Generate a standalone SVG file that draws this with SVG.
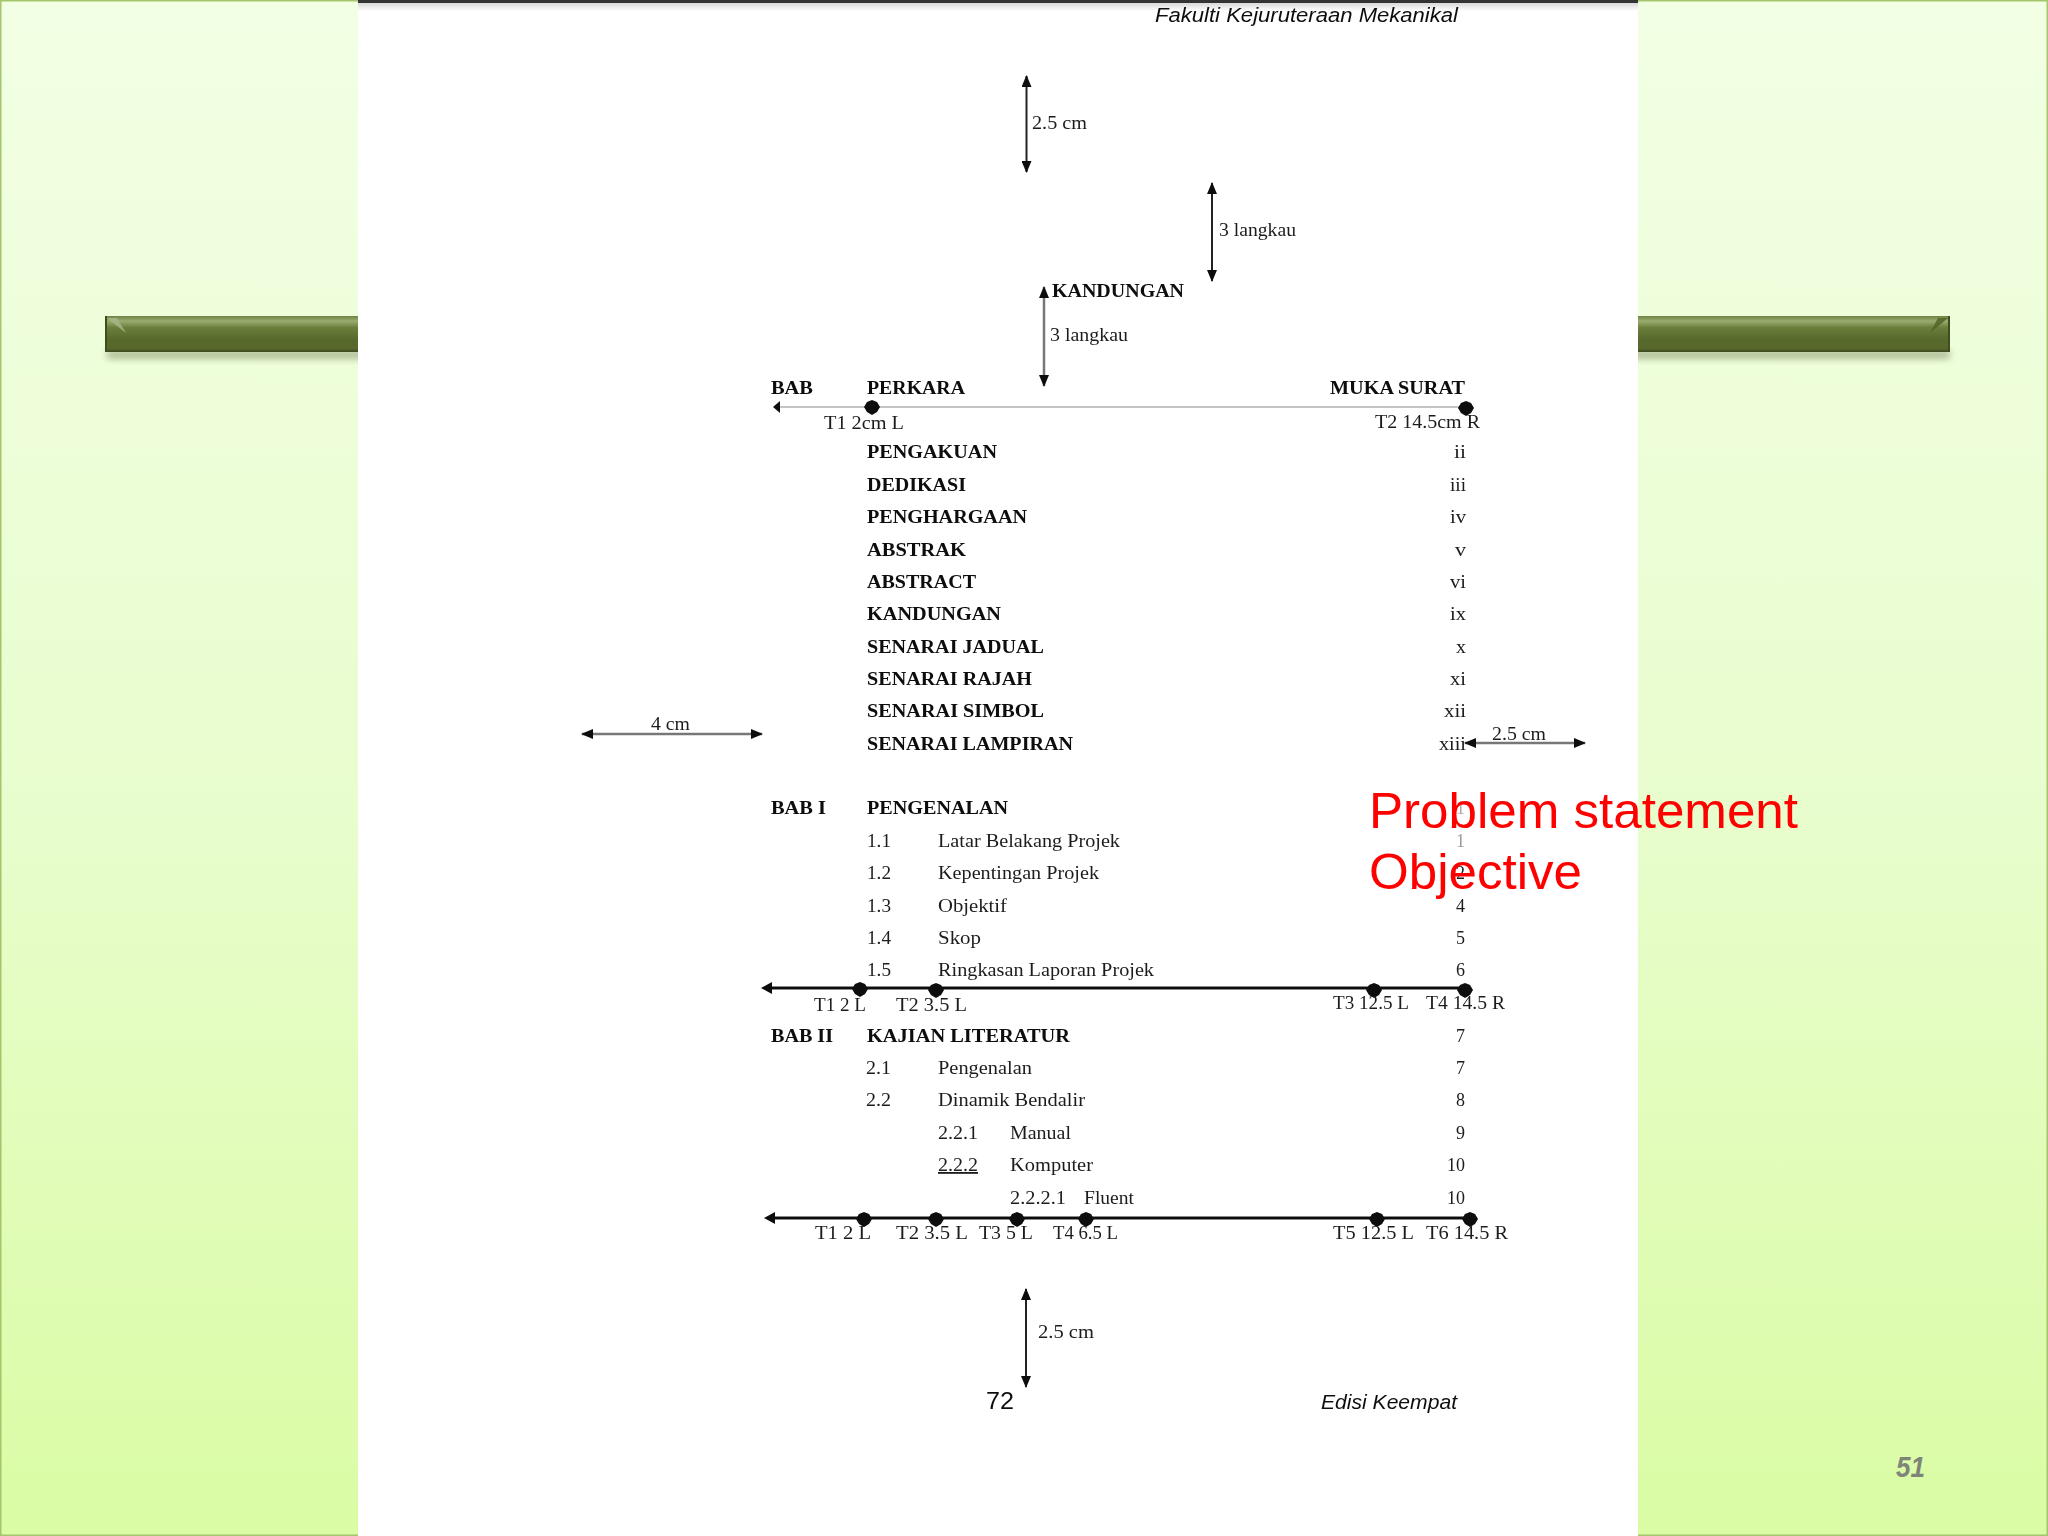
<svg xmlns="http://www.w3.org/2000/svg" xmlns:xlink="http://www.w3.org/1999/xlink" width="2048" height="1536" viewBox="0 0 2048 1536">
<style>
.r{font-family:"Liberation Serif",serif;font-size:18px;fill:#1c1c1c}
.b{font-family:"Liberation Serif",serif;font-size:18px;font-weight:bold;fill:#0a0a0a}
.f{font-family:"Liberation Sans",sans-serif;font-style:italic;font-size:20px;fill:#111}
.red{font-family:"Liberation Sans",sans-serif;font-size:50px;fill:#f00}
.pg{text-anchor:end}
.thin{stroke:#222;stroke-width:2;fill:none}
.gray{stroke:#c4c4c4;stroke-width:2;fill:none}
.mid{stroke:#777;stroke-width:2.5;fill:none}
.heavy{stroke:#111;stroke-width:3;fill:none}
.ah{marker-start:url(#a);marker-end:url(#a)}
</style>
<defs>
<linearGradient id="bg" x1="0" y1="0" x2="0" y2="1"><stop offset="0" stop-color="#f2ffe4"/><stop offset="0.5" stop-color="#e9fdcf"/><stop offset="1" stop-color="#dafca4"/></linearGradient>
<linearGradient id="bar" x1="0" y1="0" x2="0" y2="1"><stop offset="0" stop-color="#6f8243"/><stop offset="0.14" stop-color="#9aac70"/><stop offset="0.32" stop-color="#6b7f3c"/><stop offset="0.65" stop-color="#57692b"/><stop offset="0.9" stop-color="#56682b"/><stop offset="1" stop-color="#3c4a20"/></linearGradient>
<linearGradient id="topfade" x1="0" y1="0" x2="0" y2="1"><stop offset="0" stop-color="#d8d8d8"/><stop offset="1" stop-color="#ffffff"/></linearGradient>
<filter id="soft" x="-2%" y="-2%" width="104%" height="104%"><feGaussianBlur stdDeviation="0.6"/></filter>
<filter id="sh" x="-2%" y="-30%" width="104%" height="190%"><feGaussianBlur stdDeviation="3.5"/></filter>
<marker id="a" viewBox="0 0 12 10" refX="11" refY="5" markerWidth="12" markerHeight="10" markerUnits="userSpaceOnUse" orient="auto-start-reverse"><path d="M0 0L12 5L0 10Z" fill="#111"/></marker>
<path id="d" d="M0-7L5-5 8 0 5 5 0 8-5 5-8 0-5-5Z" fill="#0a0a0a"/>
</defs>

<g id="background">
<rect width="2048" height="1536" fill="url(#bg)"/>
<rect x="0.75" y="0.75" width="2046.5" height="1534.5" fill="none" stroke="#a5c56b" stroke-width="1.5"/>
<rect x="107" y="350" width="1843" height="9" fill="#7d8a60" opacity="0.55" filter="url(#sh)"/>
<g id="title-bar">
<rect x="105" y="316" width="1845" height="36" fill="url(#bar)"/>
<path d="M107 318H117L126 333Z" fill="#a9b78a" opacity="0.8"/>
<path d="M1948 318H1938L1930 333Z" fill="#4f6024" opacity="0.8"/>
<rect x="105" y="316" width="2" height="36" fill="#3f4d20"/>
<rect x="1948" y="316" width="2" height="36" fill="#3f4d20"/>
</g>
<text id="page-number" x="1896" y="1477" font-family="Liberation Sans,sans-serif" font-weight="bold" font-style="italic" font-size="30" fill="#7f8478" textLength="29" lengthAdjust="spacingAndGlyphs">51</text>
</g>

<g id="page">
<rect x="358" y="0" width="1280" height="1536" fill="#fff"/>
<rect x="358" y="3" width="1280" height="8" fill="url(#topfade)"/>
<rect x="358" y="0" width="1280" height="3" fill="#333"/>
</g>

<g id="connectors" filter="url(#soft)">
<line class="thin ah" x1="1026.500" y1="76" x2="1026.500" y2="172"/>
<line class="thin ah" x1="1212" y1="183" x2="1212" y2="281"/>
<line class="mid ah" x1="1044" y1="287" x2="1044" y2="386"/>
<line class="thin ah" x1="1026" y1="1289" x2="1026" y2="1387"/>
<line class="gray" x1="777" y1="407" x2="1465" y2="407"/>
<path d="M773 407L780 401V413Z" fill="#111"/>
<line class="mid ah" x1="582" y1="734" x2="762" y2="734"/>
<line class="mid ah" x1="1465" y1="743" x2="1585" y2="743"/>
<line class="heavy" x1="768" y1="988" x2="1465" y2="988"/>
<path d="M761 988L772 982V994Z" fill="#111"/>
<line class="heavy" x1="771" y1="1218" x2="1470" y2="1218"/>
<path d="M764 1218L775 1212V1224Z" fill="#111"/>
<use xlink:href="#d" href="#d" x="872" y="407"/>
<use xlink:href="#d" href="#d" x="1466" y="408"/>
<use xlink:href="#d" href="#d" x="860" y="989"/>
<use xlink:href="#d" href="#d" x="936" y="990"/>
<use xlink:href="#d" href="#d" x="1374" y="990"/>
<use xlink:href="#d" href="#d" x="1465" y="990"/>
<use xlink:href="#d" href="#d" x="864" y="1219"/>
<use xlink:href="#d" href="#d" x="936" y="1219"/>
<use xlink:href="#d" href="#d" x="1017" y="1219"/>
<use xlink:href="#d" href="#d" x="1086" y="1219"/>
<use xlink:href="#d" href="#d" x="1377" y="1219"/>
<use xlink:href="#d" href="#d" x="1470" y="1219"/>
</g>

<g id="page-text" filter="url(#soft)">
<text class="f" x="1155" y="22" textLength="303" lengthAdjust="spacingAndGlyphs">Fakulti Kejuruteraan Mekanikal</text>
<text class="r" x="1032" y="129" textLength="55" lengthAdjust="spacingAndGlyphs">2.5 cm</text>
<text class="r" x="1219" y="236" textLength="77" lengthAdjust="spacingAndGlyphs">3 langkau</text>
<text class="b" x="1052" y="297" textLength="132" lengthAdjust="spacingAndGlyphs">KANDUNGAN</text>
<text class="r" x="1050" y="341" textLength="78" lengthAdjust="spacingAndGlyphs">3 langkau</text>
<text class="b" x="771" y="394" textLength="42" lengthAdjust="spacingAndGlyphs">BAB</text>
<text class="b" x="867" y="394" textLength="98" lengthAdjust="spacingAndGlyphs">PERKARA</text>
<text class="b" x="1330" y="394" textLength="135" lengthAdjust="spacingAndGlyphs">MUKA SURAT</text>
<text class="r" x="824" y="429" textLength="80" lengthAdjust="spacingAndGlyphs">T1 2cm L</text>
<text class="r" x="1375" y="428" textLength="105" lengthAdjust="spacingAndGlyphs">T2 14.5cm R</text>

<text class="b" x="867" y="458" textLength="130" lengthAdjust="spacingAndGlyphs">PENGAKUAN</text>
<text class="b" x="867" y="491" textLength="99" lengthAdjust="spacingAndGlyphs">DEDIKASI</text>
<text class="b" x="867" y="523" textLength="160" lengthAdjust="spacingAndGlyphs">PENGHARGAAN</text>
<text class="b" x="867" y="556" textLength="99" lengthAdjust="spacingAndGlyphs">ABSTRAK</text>
<text class="b" x="867" y="588" textLength="109" lengthAdjust="spacingAndGlyphs">ABSTRACT</text>
<text class="b" x="867" y="620" textLength="134" lengthAdjust="spacingAndGlyphs">KANDUNGAN</text>
<text class="b" x="867" y="653" textLength="177" lengthAdjust="spacingAndGlyphs">SENARAI JADUAL</text>
<text class="b" x="867" y="685" textLength="165" lengthAdjust="spacingAndGlyphs">SENARAI RAJAH</text>
<text class="b" x="867" y="717" textLength="177" lengthAdjust="spacingAndGlyphs">SENARAI SIMBOL</text>
<text class="b" x="867" y="750" textLength="206" lengthAdjust="spacingAndGlyphs">SENARAI LAMPIRAN</text>

<text class="r" x="1454" y="458" textLength="12" lengthAdjust="spacingAndGlyphs">ii</text>
<text class="r" x="1450" y="491" textLength="16" lengthAdjust="spacingAndGlyphs">iii</text>
<text class="r" x="1450" y="523" textLength="16" lengthAdjust="spacingAndGlyphs">iv</text>
<text class="r" x="1455" y="556" textLength="11" lengthAdjust="spacingAndGlyphs">v</text>
<text class="r" x="1450" y="588" textLength="16" lengthAdjust="spacingAndGlyphs">vi</text>
<text class="r" x="1450" y="620" textLength="16" lengthAdjust="spacingAndGlyphs">ix</text>
<text class="r" x="1456" y="653" textLength="10" lengthAdjust="spacingAndGlyphs">x</text>
<text class="r" x="1450" y="685" textLength="16" lengthAdjust="spacingAndGlyphs">xi</text>
<text class="r" x="1444" y="717" textLength="22" lengthAdjust="spacingAndGlyphs">xii</text>
<text class="r" x="1439" y="750" textLength="27" lengthAdjust="spacingAndGlyphs">xiii</text>

<text class="r" x="651" y="730" textLength="39" lengthAdjust="spacingAndGlyphs">4 cm</text>
<text class="r" x="1492" y="740" textLength="54" lengthAdjust="spacingAndGlyphs">2.5 cm</text>

<text class="b" x="771" y="814" textLength="55" lengthAdjust="spacingAndGlyphs">BAB I</text>
<text class="b" x="867" y="814" textLength="141" lengthAdjust="spacingAndGlyphs">PENGENALAN</text>
<text class="r pg" x="1465" y="814" style="fill:#aaa">1</text>
<text class="r" x="867" y="847" textLength="24" lengthAdjust="spacingAndGlyphs">1.1</text>
<text class="r" x="938" y="847" textLength="182" lengthAdjust="spacingAndGlyphs">Latar Belakang Projek</text>
<text class="r pg" x="1465" y="847" style="fill:#999">1</text>
<text class="r" x="867" y="879" textLength="24" lengthAdjust="spacingAndGlyphs">1.2</text>
<text class="r" x="938" y="879" textLength="161" lengthAdjust="spacingAndGlyphs">Kepentingan Projek</text>
<text class="r pg" x="1465" y="879">2</text>
<text class="r" x="867" y="912" textLength="24" lengthAdjust="spacingAndGlyphs">1.3</text>
<text class="r" x="938" y="912" textLength="69" lengthAdjust="spacingAndGlyphs">Objektif</text>
<text class="r pg" x="1465" y="912">4</text>
<text class="r" x="867" y="944" textLength="24" lengthAdjust="spacingAndGlyphs">1.4</text>
<text class="r" x="938" y="944" textLength="43" lengthAdjust="spacingAndGlyphs">Skop</text>
<text class="r pg" x="1465" y="944">5</text>
<text class="r" x="867" y="976" textLength="24" lengthAdjust="spacingAndGlyphs">1.5</text>
<text class="r" x="938" y="976" textLength="216" lengthAdjust="spacingAndGlyphs">Ringkasan Laporan Projek</text>
<text class="r pg" x="1465" y="976">6</text>

<text class="r" x="814" y="1011" textLength="52" lengthAdjust="spacingAndGlyphs">T1 2 L</text>
<text class="r" x="896" y="1011" textLength="71" lengthAdjust="spacingAndGlyphs">T2 3.5 L</text>
<text class="r" x="1333" y="1009" textLength="76" lengthAdjust="spacingAndGlyphs">T3 12.5 L</text>
<text class="r" x="1426" y="1009" textLength="79" lengthAdjust="spacingAndGlyphs">T4 14.5 R</text>

<text class="b" x="771" y="1042" textLength="62" lengthAdjust="spacingAndGlyphs">BAB II</text>
<text class="b" x="867" y="1042" textLength="203" lengthAdjust="spacingAndGlyphs">KAJIAN LITERATUR</text>
<text class="r pg" x="1465" y="1042">7</text>
<text class="r" x="866" y="1074" textLength="25" lengthAdjust="spacingAndGlyphs">2.1</text>
<text class="r" x="938" y="1074" textLength="94" lengthAdjust="spacingAndGlyphs">Pengenalan</text>
<text class="r pg" x="1465" y="1074">7</text>
<text class="r" x="866" y="1106" textLength="25" lengthAdjust="spacingAndGlyphs">2.2</text>
<text class="r" x="938" y="1106" textLength="147" lengthAdjust="spacingAndGlyphs">Dinamik Bendalir</text>
<text class="r pg" x="1465" y="1106">8</text>
<text class="r" x="938" y="1139" textLength="40" lengthAdjust="spacingAndGlyphs">2.2.1</text>
<text class="r" x="1010" y="1139" textLength="61" lengthAdjust="spacingAndGlyphs">Manual</text>
<text class="r pg" x="1465" y="1139">9</text>
<text class="r" x="938" y="1171" textLength="40" lengthAdjust="spacingAndGlyphs" text-decoration="underline">2.2.2</text>
<text class="r" x="1010" y="1171" textLength="83" lengthAdjust="spacingAndGlyphs">Komputer</text>
<text class="r" x="1447" y="1171" textLength="18" lengthAdjust="spacingAndGlyphs">10</text>
<text class="r" x="1010" y="1204" textLength="56" lengthAdjust="spacingAndGlyphs">2.2.2.1</text>
<text class="r" x="1084" y="1204" textLength="50" lengthAdjust="spacingAndGlyphs">Fluent</text>
<text class="r" x="1447" y="1204" textLength="18" lengthAdjust="spacingAndGlyphs">10</text>

<text class="r" x="815" y="1239" textLength="56" lengthAdjust="spacingAndGlyphs">T1 2 L</text>
<text class="r" x="896" y="1239" textLength="72" lengthAdjust="spacingAndGlyphs">T2 3.5 L</text>
<text class="r" x="979" y="1239" textLength="54" lengthAdjust="spacingAndGlyphs">T3 5 L</text>
<text class="r" x="1053" y="1239" textLength="65" lengthAdjust="spacingAndGlyphs">T4 6.5 L</text>
<text class="r" x="1333" y="1239" textLength="81" lengthAdjust="spacingAndGlyphs">T5 12.5 L</text>
<text class="r" x="1426" y="1239" textLength="82" lengthAdjust="spacingAndGlyphs">T6 14.5 R</text>

<text class="r" x="1038" y="1338" textLength="56" lengthAdjust="spacingAndGlyphs">2.5 cm</text>
<text class="f" x="986" y="1409" style="font-style:normal;font-size:24px" textLength="28" lengthAdjust="spacingAndGlyphs">72</text>
<text class="f" x="1321" y="1409" textLength="136" lengthAdjust="spacingAndGlyphs">Edisi Keempat</text>
</g>

<g id="callout">
<text class="red" x="1369" y="828" textLength="429" lengthAdjust="spacingAndGlyphs">Problem statement</text>
<text class="red" x="1369" y="889" textLength="213" lengthAdjust="spacingAndGlyphs">Objective</text>
</g>
</svg>
